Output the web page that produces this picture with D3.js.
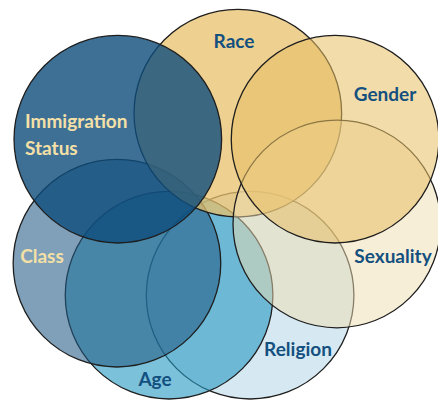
<!DOCTYPE html>
<html>
<head>
<meta charset="utf-8">
<script src="https://cdn.jsdelivr.net/npm/d3@7"></script>
<style>
  body { margin: 0; background: #fff; }
  text { font-family: Lato, "Open Sans", sans-serif; font-weight: 700; }
</style>
</head>
<body>
<div id="chart"></div>
<script>
// Categories in drawing order (bottom to top)
const categories = ['Religion', 'Age', 'Class', 'Race', 'Immigration Status', 'Sexuality', 'Gender'];
// Circle centres in percent of the canvas
const centerX = [57.1, 38.6, 26.7, 54.3, 26.9, 76.9, 76.5];
const centerY = [73.8, 73.8, 65.8, 28.3, 34.8, 56.0, 34.8];
const radius = 23.7; // percent of width, same for every circle

// Label lines per category
const labelLines = [['Religion'], ['Age'], ['Class'], ['Race'], ['Immigration', 'Status'], ['Sexuality'], ['Gender']];

let dim = { width: 438, height: 400 };

let x = d3.scaleLinear().domain([0, 100]).range([0, dim.width]);
let y = d3.scaleLinear().domain([0, 100]).range([0, dim.height]);

// fill colour and opacity of each circle
const fills = ['#5aa9cc', '#2598c1', '#225b85', '#e8c06b', '#0e4c7c', '#efddb1', '#e7bf64'];
const opac = [0.25, 0.6, 0.58, 0.75, 0.8, 0.5, 0.55];

// label placement (anchor x, baseline y in px) and colour
const labelLayout = [
  { x: 298, y: 356, anchor: 'middle', color: '#14507f' },
  { x: 155, y: 386, anchor: 'middle', color: '#14507f' },
  { x: 42, y: 263, anchor: 'middle', color: '#f4e0a6' },
  { x: 234, y: 48, anchor: 'middle', color: '#14507f' },
  { x: 25, y: 128, anchor: 'start', color: '#f4e0a6' },
  { x: 393, y: 263, anchor: 'middle', color: '#14507f' },
  { x: 385, y: 101, anchor: 'middle', color: '#14507f' }
];

const data = categories.map((c, i) => ({ name: c, cx: centerX[i], cy: centerY[i], i: i }));

let svg = d3.select('#chart')
  .append('svg')
  .attr('width', dim.width)
  .attr('height', dim.height);

svg.selectAll('circle')
  .data(data)
  .join('circle')
  .attr('cx', d => x(d.cx))
  .attr('cy', d => y(d.cy))
  .attr('r', x(radius))
  .attr('fill', d => fills[d.i])
  .attr('fill-opacity', d => opac[d.i])
  .attr('stroke', '#1e1e1e')
  .attr('stroke-width', 1.3);

// labels go on top of every circle
svg.selectAll('text.label')
  .data(data)
  .join('text')
  .attr('class', 'label')
  .attr('x', d => labelLayout[d.i].x)
  .attr('y', d => labelLayout[d.i].y)
  .attr('text-anchor', d => labelLayout[d.i].anchor)
  .attr('fill', d => labelLayout[d.i].color)
  .attr('font-size', 19)
  .selectAll('tspan')
  .data(d => labelLines[d.i].map((t, k) => ({ t, k, x: labelLayout[d.i].x })))
  .join('tspan')
  .attr('x', t => t.x)
  .attr('dy', t => t.k === 0 ? 0 : 27)
  .text(t => t.t);
</script>
</body>
</html>
